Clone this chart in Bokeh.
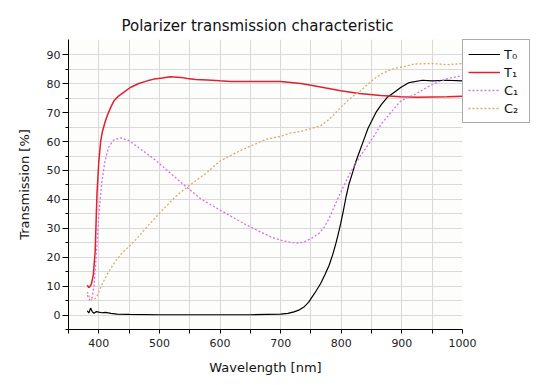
from bokeh.plotting import figure
from bokeh.models import FixedTicker, Legend, LegendItem, Range1d
from bokeh.embed import file_html
from bokeh.resources import INLINE

# ---- data ----
t0_wl = [381, 383.5, 386.5, 389, 392, 396, 400, 405, 411, 420, 430, 450, 500, 550, 600, 650, 700, 712, 722, 731,
         739, 746, 752, 759, 766, 773, 780, 786, 791, 795, 799, 803, 808, 813, 819, 824, 830, 837, 844, 850,
         857, 866, 876, 887, 898, 912, 934, 950, 973, 1000]
t0_val = [1.5, 0.7, 2.4, 1.2, 0.6, 1.2, 1.0, 0.8, 0.9, 0.6, 0.3, 0.2, 0.1, 0.1, 0.1, 0.1, 0.3, 0.6, 1.1, 1.8,
          2.9, 4.4, 6.3, 8.5, 10.9, 13.9, 17.2, 21.0, 24.7, 28.0, 31.6, 35.6, 41.0, 45.5, 49.5, 53.0, 56.5, 60.5, 64.5, 67.0,
          70.0, 72.8, 75.3, 77.0, 78.7, 80.4, 81.2, 81.0, 81.2, 81.0]

t1_wl = [381, 383.5, 386, 388, 391, 394, 397, 400, 403, 406, 410, 414, 420, 425, 433, 441, 452, 466, 480, 491,
         505, 518, 535, 546, 560, 579, 600, 617, 650, 700, 733, 750, 775, 799, 830, 865, 898, 925, 950, 975, 1000]
t1_val = [10.3, 9.5, 10.0, 10.9, 14.0, 22.0, 42.0, 53.0, 60.0, 63.5, 66.5, 69.0, 72.0, 74.1, 75.8, 77.0, 78.7, 80.1, 81.0, 81.6,
          82.0, 82.4, 82.2, 81.8, 81.5, 81.3, 81.0, 80.8, 80.8, 80.8, 80.1, 79.5, 78.5, 77.6, 76.6, 75.9, 75.5, 75.3, 75.4, 75.5, 75.7]

c1_wl = [381, 385, 389, 392, 395, 398, 401, 405, 410, 416, 425, 436, 450, 469, 491, 513, 535, 568, 601, 645,
         684, 700, 717, 730, 739, 755, 765, 772, 780, 788, 797, 805, 813, 821, 832, 843, 855, 865, 876, 887,
         898, 910, 919, 937, 946, 964, 980, 1000]
c1_val = [6.9, 5.2, 6.0, 10.0, 18.0, 28.0, 37.0, 46.0, 53.0, 58.0, 60.6, 61.3, 60.3, 57.4, 54.0, 50.0, 46.0, 40.2, 36.2, 31.0,
          27.0, 25.9, 25.1, 24.9, 25.3, 27.0, 28.6, 30.4, 33.5, 37.3, 41.5, 45.0, 48.5, 51.5, 55.2, 58.5, 62.2, 65.8, 68.6, 71.4,
          74.0, 75.3, 76.0, 78.2, 79.3, 81.0, 82.0, 82.8]

c2_wl = [381, 385, 389, 393, 398, 406, 415, 427, 440, 455, 477, 499, 526, 549, 576, 601, 625, 645, 678, 700,
         717, 733, 750, 766, 779, 789, 800, 811, 820, 830, 842, 855, 866, 877, 888, 899, 920, 948, 975, 1000]
c2_val = [8.0, 6.0, 5.2, 5.5, 7.0, 10.9, 14.5, 18.5, 21.8, 24.7, 29.9, 35.0, 40.8, 44.8, 48.9, 53.4, 56.0, 58.0, 60.9, 61.8,
          63.0, 63.5, 64.5, 65.5, 67.5, 69.6, 72.0, 74.2, 75.8, 77.2, 79.5, 81.8, 83.3, 84.5, 85.3, 85.7, 86.8, 87.0, 86.6, 87.0]

x_major = [400, 500, 600, 700, 800, 900, 1000]
x_minor = [350, 450, 550, 650, 750, 850, 950]
y_major = [0, 10, 20, 30, 40, 50, 60, 70, 80, 90]
y_minor = [-5, 5, 15, 25, 35, 45, 55, 65, 75, 85]

series_names = ["T\u2080", "T\u2081", "C\u2081", "C\u2082"]

FONT = "DejaVu Sans"

p = figure(frame_width=394, frame_height=290, output_backend="svg", toolbar_location=None,
           x_range=Range1d(350, 1000), y_range=Range1d(-5, 95.3),
           min_border_left=68, min_border_right=64, min_border_top=39, min_border_bottom=48)

p.title.text = "Polarizer transmission characteristic"
p.title.text_font = FONT
p.title.text_font_size = "15px"
p.title.text_font_style = "normal"
p.title.text_color = "#111111"
p.title.align = "left"
p.title.offset = 53

p.background_fill_color = "#fdfdfc"
p.border_fill_color = "white"
p.outline_line_color = None

p.xaxis.ticker = FixedTicker(ticks=x_major, minor_ticks=x_minor)
p.yaxis.ticker = FixedTicker(ticks=y_major, minor_ticks=y_minor)

for ax in (p.xaxis, p.yaxis):
    ax.axis_line_color = "black"
    ax.major_tick_line_color = "black"
    ax.minor_tick_line_color = "black"
    ax.major_tick_in = 0
    ax.minor_tick_in = 0
    ax.major_label_text_font = FONT
    ax.major_label_text_font_size = "11px"
    ax.major_label_text_color = "#222222"
    ax.axis_label_text_font = FONT
    ax.axis_label_text_font_size = "13px"
    ax.axis_label_text_font_style = "normal"
    ax.axis_label_text_color = "#111111"

p.xaxis.major_tick_out = 4
p.xaxis.minor_tick_out = 4
p.yaxis.major_tick_out = 6
p.yaxis.minor_tick_out = 3
p.yaxis.major_label_standoff = 2
p.xaxis.axis_label = "Wavelength [nm]"
p.yaxis.axis_label = "Transmission [%]"
p.xaxis.axis_label_standoff = 10
p.yaxis.axis_label_standoff = 12

for g in (p.xgrid, p.ygrid):
    g.grid_line_color = "#d9d9d9"
    g.minor_grid_line_color = "#d9d9d9"
    g.grid_line_width = 1
    g.minor_grid_line_width = 1

r0 = p.line(t0_wl, t0_val, line_color="black", line_width=1.2)
r1 = p.line(t1_wl, t1_val, line_color="#e0202c", line_width=1.5)
r2 = p.line(c1_wl, c1_val, line_color="#dc6ee6", line_width=1.3, line_dash="2 2")
r3 = p.line(c2_wl, c2_val, line_color="#e0a868", line_width=1.3, line_dash="2 2")

legend = Legend(items=[LegendItem(label=n, renderers=[r]) for n, r in zip(series_names, [r0, r1, r2, r3])],
                location="top_left")
legend.border_line_color = "#555555"
legend.border_line_width = 1
legend.background_fill_color = "white"
legend.background_fill_alpha = 1.0
legend.padding = 5
legend.spacing = 0
legend.margin = 0
legend.glyph_width = 32
legend.glyph_height = 18
legend.label_height = 18
legend.label_standoff = 4
legend.label_text_font = FONT
legend.label_text_font_size = "13px"
legend.label_text_color = "#111111"
p.add_layout(legend, "right")

open("out.html", "w").write(file_html(p, INLINE))
